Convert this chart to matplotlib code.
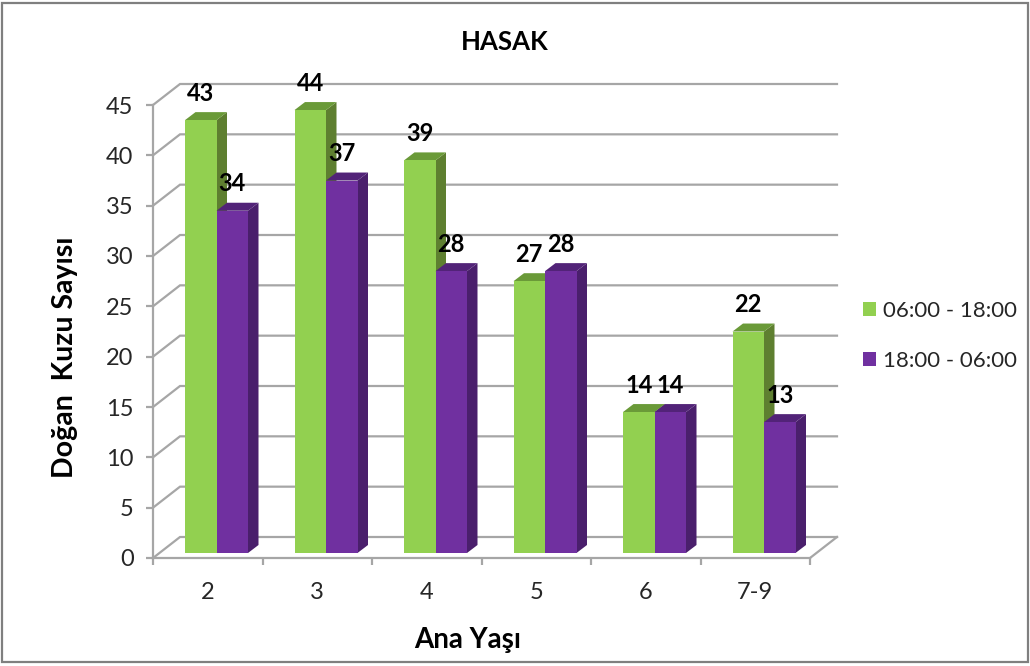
import matplotlib
matplotlib.use("Agg")
import matplotlib.pyplot as plt
from matplotlib.patches import Polygon, Rectangle, Patch
import numpy as np

plt.rcParams['font.family'] = ['Lato', 'DejaVu Sans']

categories = ['2', '3', '4', '5', '6', '7-9']
series_names = ['06:00 - 18:00', '18:00 - 06:00']
day_values = [43, 44, 39, 27, 14, 22]
night_values = [34, 37, 28, 28, 14, 13]
y_ticks = [0, 5, 10, 15, 20, 25, 30, 35, 40, 45]

W, H = 1030, 666
fig = plt.figure(figsize=(W / 100, H / 100), dpi=100)
fig.patch.set_facecolor('white')
fig.add_artist(Rectangle((1.5 / W, 4.5 / H), (W - 3.5) / W, (H - 7) / H,
                         transform=fig.transFigure, fill=False,
                         edgecolor='#7F7F7F', linewidth=1.6))

L, R, T, B = 153, 810, 105, 558
ax = fig.add_axes([L / W, 1 - B / H, (R - L) / W, (B - T) / H])
ax.set_xlim(0, len(categories))
ax.set_ylim(0, 45)
ax.patch.set_alpha(0)

px_x = len(categories) / (R - L)
px_y = 45 / (B - T)
GRID = '#A6A6A6'
wall_dx, wall_dy = 27 * px_x, 21 * px_y
lw = 1.6

xmax = len(categories)
for v in y_ticks:
    ax.plot([0, wall_dx, xmax + wall_dx], [v, v + wall_dy, v + wall_dy],
            color=GRID, lw=lw, clip_on=False, zorder=1, solid_joinstyle='miter')
ax.plot([xmax, xmax + wall_dx], [0, wall_dy], color=GRID, lw=lw, clip_on=False, zorder=1)

bar_w = 31.5 * px_x
first = 32 * px_x
base = 5 * px_y
d_x, d_y = 10.5 * px_x, 8 * px_y


def draw_series(offset, values, front, side, top, z):
    xs = np.arange(len(values)) + offset
    ax.bar(xs, values, width=bar_w, bottom=base, align='edge', color=front,
           linewidth=0, zorder=z + 1, clip_on=False)
    for x, v in zip(xs, values):
        y0, y1 = base, base + v
        ax.add_patch(Polygon([(x + bar_w, y0), (x + bar_w + d_x, y0 + d_y),
                              (x + bar_w + d_x, y1 + d_y), (x + bar_w, y1)],
                             facecolor=side, edgecolor='none', zorder=z, clip_on=False))
        ax.add_patch(Polygon([(x, y1), (x + d_x, y1 + d_y),
                              (x + bar_w + d_x, y1 + d_y), (x + bar_w, y1)],
                             facecolor=top, edgecolor='none', zorder=z, clip_on=False))
        ax.annotate(str(v), (x + bar_w / 2, y1), xytext=(0, 27 * 0.72),
                    textcoords='offset points', ha='center', va='center',
                    fontsize=17, fontweight='bold', color='black',
                    zorder=10, annotation_clip=False)


draw_series(first, day_values, '#92D050', '#5E7F30', '#6A9A38', 2)
draw_series(first + bar_w, night_values, '#7030A0', '#4A1F6C', '#522378', 4)

for s in ('top', 'right'):
    ax.spines[s].set_visible(False)
for s in ('left', 'bottom'):
    ax.spines[s].set_color(GRID)
    ax.spines[s].set_linewidth(lw)

ax.set_yticks(y_ticks)
ax.set_yticklabels([str(v) for v in y_ticks])
ax.tick_params(axis='y', length=5, width=lw, color=GRID, labelsize=17, pad=9, labelcolor='#262626')
ax.set_xticks(range(len(categories) + 1))
ax.set_xticklabels([])
ax.set_xticks(np.arange(len(categories)) + 0.5, minor=True)
ax.set_xticklabels(categories, minor=True)
ax.tick_params(axis='x', which='major', length=5, width=lw, color=GRID)
ax.tick_params(axis='x', which='minor', length=0, labelsize=17, pad=17, labelcolor='#262626')

fig.text(505 / W, 1 - 42 / H, 'HASAK', ha='center', va='center', fontsize=18.5, fontweight='bold')
fig.text(468 / W, 1 - 640 / H, 'Ana Yaşı', ha='center', va='center', fontsize=20, fontweight='bold')
fig.text(65 / W, 1 - 357 / H, 'Doğan  Kuzu Sayısı', ha='center', va='center', rotation=90,
         fontsize=20.5, fontweight='bold')

handles = [Patch(facecolor='#92D050', edgecolor='none', label=series_names[0]),
           Patch(facecolor='#7030A0', edgecolor='none', label=series_names[1])]
fig.legend(handles=handles, loc='center left', bbox_to_anchor=(863 / W, 1 - 336 / H),
           frameon=False, fontsize=16, handlelength=0.59, handleheight=0.59,
           handletextpad=0.33, labelspacing=1.37, borderpad=0, borderaxespad=0,
           labelcolor='#262626')

fig.savefig('out.png', dpi=100)
